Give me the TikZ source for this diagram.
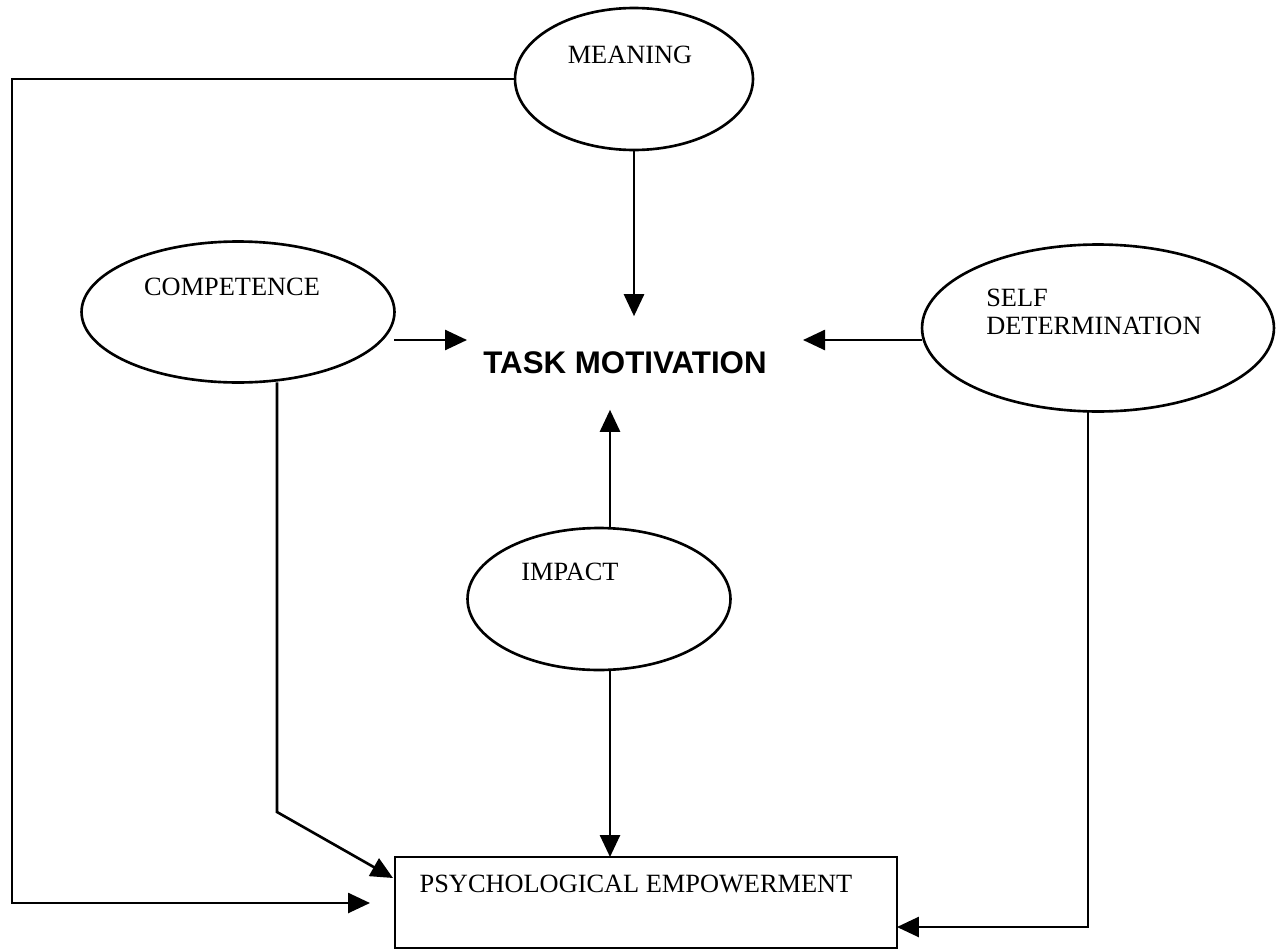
\documentclass[tikz,border=0pt]{standalone}
\usepackage{fontspec}
\setmainfont{Liberation Serif}
\newfontfamily\headfont{Liberation Sans}
\usepackage{tikz}
\usetikzlibrary{shapes.geometric}
\usetikzlibrary{arrows.meta}

\begin{document}
\begin{tikzpicture}[x=0.02cm, y=-0.02cm, line width=1.5pt,
    oval/.style={ellipse, draw, inner sep=0pt, outer sep=0pt},
    lbl/.style={font=\fontsize{15}{16}\selectfont, inner sep=0pt},
    arr/.style={-{Triangle[length=0.44cm, width=0.4cm]}}]
    \useasboundingbox (0,0) rectangle (1281,950);
    % Ellipses, box and labels:
    \node[oval, minimum width=4.76cm, minimum height=2.84cm](M) at (634, 79){} node[lbl] at (630, 55){MEANING};
    \node[oval, minimum width=6.26cm, minimum height=2.82cm](C) at (238, 312){} node[lbl] at (232, 287){COMPETENCE};
    \node[oval, minimum width=7.04cm, minimum height=3.34cm](S) at (1098, 328){} node[lbl, anchor=north west, align=left] at (985, 288){SELF\\DETERMINATION};
    \node[oval, minimum width=5.26cm, minimum height=2.84cm](I) at (599, 599){} node[lbl] at (570, 572){IMPACT};
    \node[font=\headfont\bfseries\fontsize{17.8}{20}\selectfont, inner sep=0pt, minimum height=1.82cm](TM) at (625, 363){TASK MOTIVATION};
    \node[draw, shape=rectangle, inner sep=0pt, outer sep=0pt, minimum width=10.04cm, minimum height=1.82cm](PE) at (646, 902.5){} node[lbl] at (636, 884){PSYCHOLOGICAL EMPOWERMENT};
    % Corners and free ends:
    \coordinate (lc) at (12, 903);
    \coordinate (le) at (370, 903);
    \coordinate (cc) at (277, 812);
    \coordinate (ce) at (393, 878);
    \coordinate (sc) at (1088, 927);
    \coordinate (ct) at (467, 340);
    \coordinate (st) at (803, 340);
    \coordinate (ix) at (610, 599);
    % Arrows:
    \draw[arr] (M.west) -| (lc) -- (le);
    \draw[arr] (M.south) -- (M.south |- TM.north);
    \draw[arr] (C.east |- ct) -- (ct);
    \draw[arr] (S.west |- st) -- (st);
    \draw[arr] (I.north -| ix) -- (ix |- TM.south);
    \draw[arr] (I.south -| ix) -- (ix |- PE.north);
    \draw[arr] (C.south -| cc) -- (cc) -- (ce);
    \draw[arr] (S.south -| sc) -- (sc) -- (PE.east |- sc);
\end{tikzpicture}
\end{document}
